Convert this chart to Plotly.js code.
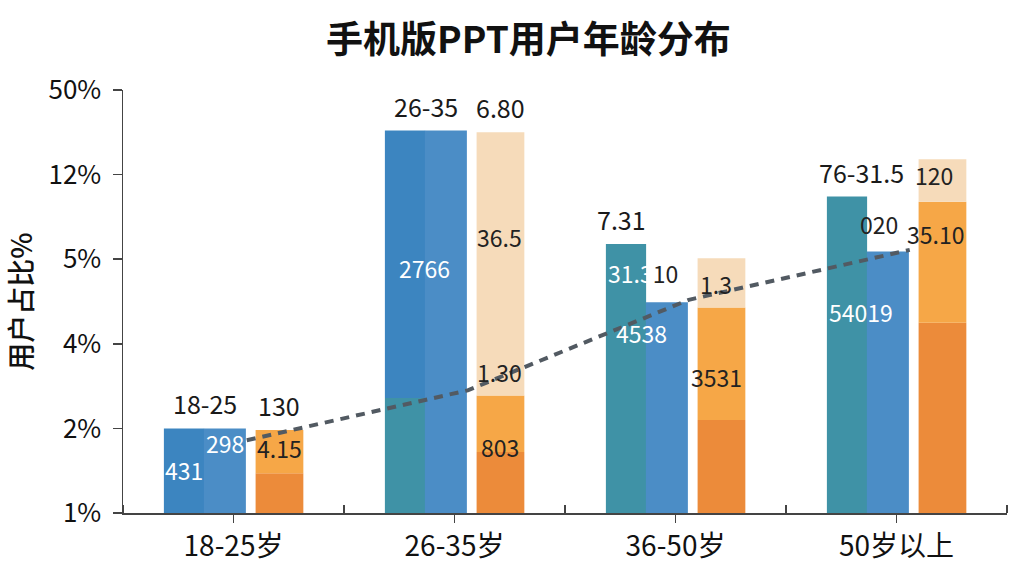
<!DOCTYPE html>
<html>
<head>
<meta charset="utf-8">
<script src="https://cdn.plot.ly/plotly-3.0.1.min.js"></script>
<style>
  html, body { margin: 0; padding: 0; background: #fff; }
  #myDiv { width: 1024px; height: 576px; }
</style>
</head>
<body>
<div id="myDiv"></div>
<script>
// categories and tick labels
var groups = ["18-25岁", "26-35岁", "36-50岁", "50岁以上"];
var yTickVals = [0, 1, 2, 3, 4, 5];
var yTickText = ["1%", "2%", "4%", "5%", "12%", "50%"];

// left half of the blue pair: teal bottom + blue top
var leftTeal = [0, 1.36, 3.18, 3.74];
var leftBlue = [1.0, 3.16, 0, 0];
// right half of the blue pair
var rightBlue = [1.0, 4.52, 2.49, 3.09];
// orange stack: dark, mid, peach
var orangeDark = [0.47, 0.72, 1.10, 2.25];
var orangeMid = [0.51, 0.67, 1.33, 1.43];
var orangePeach = [0, 3.11, 0.58, 0.50];
// dashed trend line
var trend = [0.86, 1.45, 2.52, 3.11];

// value labels
var topLeftText = ["18-25", "26-35", "7.31", "76-31.5"];
var topOrangeText = ["130", "6.80", "", ""];
var innerLabels = [
  // [group, text, y, colour, x shift]
  [0, "298", 0.83, "#fff", -0.04],
  [0, "431", 0.51, "#fff", -0.225],
  [0, "4.15", 0.77, "#222", 0.21],
  [1, "2766", 2.90, "#fff", -0.135],
  [1, "36.5", 3.26, "#222", 0.205],
  [1, "1.30", 1.67, "#222", 0.205],
  [1, "803", 0.78, "#222", 0.205],
  [2, "31.3<span style='color:#222'>10</span>", 2.84, "#fff", -0.145],
  [2, "4538", 2.13, "#fff", -0.155],
  [2, "1.3", 2.71, "#222", 0.185],
  [2, "3531", 1.61, "#222", 0.185],
  [3, "020", 3.42, "#222", -0.08],
  [3, "35.10", 3.30, "#222", 0.175],
  [3, "54019", 2.38, "#fff", -0.16],
  [3, "120", 4.00, "#222", 0.17]
];

var idx = groups.map(function (g, i) { return i; });
function add(a, b) { return a.map(function (v, i) { return v + b[i]; }); }

var FONT = "Noto Sans CJK SC, Noto Sans, sans-serif";

function bar(y, base, color, offset, width) {
  return {
    type: "bar", x: idx, y: y, base: base,
    offset: offset, width: width,
    marker: { color: color, line: { width: 0 } },
    hoverinfo: "skip"
  };
}

var zeros = idx.map(function () { return 0; });
var data = [
  bar(leftTeal, zeros, "#3f92a6", -0.315, 0.182),
  bar(leftBlue, leftTeal, "#3c85c0", -0.315, 0.182),
  bar(rightBlue, zeros, "#4b8dc6", -0.134, 0.19),
  bar(orangeDark, zeros, "#ec8b3a", 0.10, 0.216),
  bar(orangeMid, orangeDark, "#f6a747", 0.10, 0.216),
  bar(orangePeach, add(orangeDark, orangeMid), "#f6dbba", 0.10, 0.216),
  {
    type: "scatter", mode: "lines",
    x: idx.map(function (i) { return i + 0.06; }),
    y: trend,
    line: { color: "#525a62", width: 4, dash: "9px,7px" },
    hoverinfo: "skip"
  }
];

var annotations = [];
var leftTop = add(leftTeal, leftBlue).map(function (v, i) { return Math.max(v, rightBlue[i]); });
var leftShift = [-0.13, -0.13, -0.245, -0.16];
topLeftText.forEach(function (t, i) {
  annotations.push({
    x: i + leftShift[i], y: (i == 2 ? leftTeal[i] : leftTop[i]), text: t, showarrow: false,
    yanchor: "bottom", yshift: 5,
    font: { family: FONT, size: 25, color: "#1a1a1a" }
  });
});
var orangeTop = add(add(orangeDark, orangeMid), orangePeach);
topOrangeText.forEach(function (t, i) {
  if (!t) return;
  annotations.push({
    x: i + 0.208, y: orangeTop[i], text: t, showarrow: false,
    yanchor: "bottom", yshift: 5,
    font: { family: FONT, size: 25, color: "#1a1a1a" }
  });
});
innerLabels.forEach(function (l) {
  annotations.push({
    x: l[0] + l[4], y: l[2], text: l[1], showarrow: false,
    font: { family: FONT, size: 23, color: l[3] }
  });
});

var layout = {
  width: 1024, height: 576,
  margin: { t: 90, r: 17, l: 123, b: 63 },
  paper_bgcolor: "#fff", plot_bgcolor: "#fff",
  barmode: "overlay",
  showlegend: false,
  title: {
    text: "手机版PPT用户年龄分布",
    x: 0.516, xanchor: "center", y: 0.93, yref: "container", yanchor: "middle",
    font: { family: FONT, size: 37, color: "#111", weight: "bold" }
  },
  xaxis: {
    range: [-0.5, 3.5],
    tickmode: "array", tickvals: idx, ticktext: groups,
    ticks: "outside", ticklen: 8, tickcolor: "#444", tickwidth: 1.5,
    showline: true, linecolor: "#444", linewidth: 1.5,
    showgrid: false, zeroline: false,
    tickfont: { family: FONT, size: 28, color: "#111" },
    minor: {
      tickmode: "array", tickvals: [-0.5, 0.5, 1.5, 2.5, 3.5],
      ticks: "inside", ticklen: 8, tickcolor: "#444", tickwidth: 1.5, showgrid: false
    }
  },
  yaxis: {
    range: [0, 5],
    tickmode: "array", tickvals: yTickVals, ticktext: yTickText,
    ticks: "outside", ticklen: 9, tickcolor: "#444", tickwidth: 1.5,
    ticklabelstandoff: 6,
    showline: true, linecolor: "#444", linewidth: 1.5,
    showgrid: false, zeroline: false,
    tickfont: { family: FONT, size: 26, color: "#111" },
    title: { text: "用户占比%", standoff: 14, font: { family: FONT, size: 28, color: "#111", weight: 500 } }
  },
  annotations: annotations
};

Plotly.newPlot("myDiv", data, layout, { displayModeBar: false, staticPlot: true });
</script>
</body>
</html>
